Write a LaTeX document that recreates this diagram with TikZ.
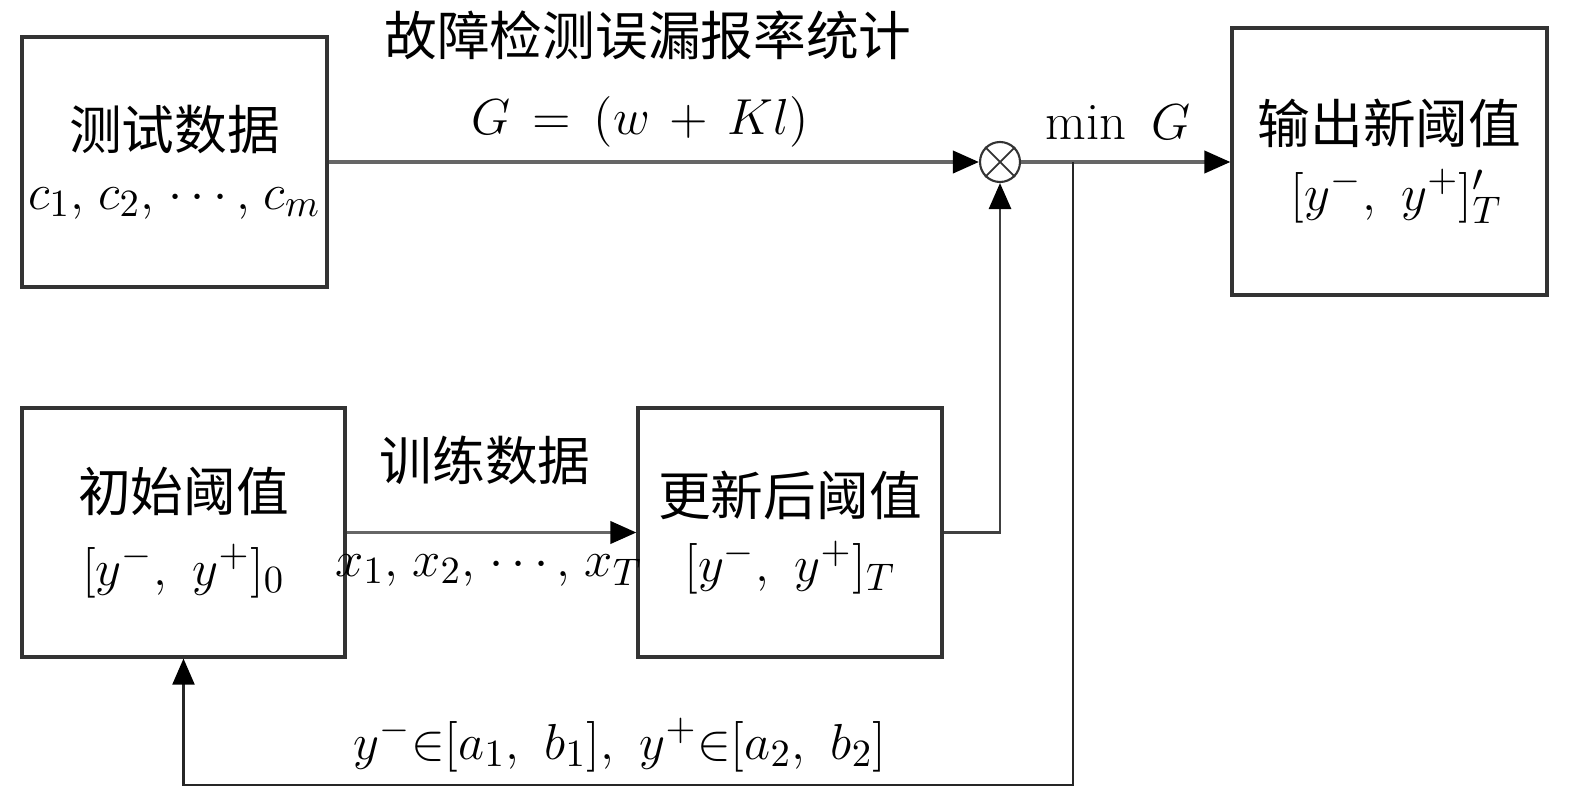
\documentclass[tikz,border=0pt]{standalone}
\usepackage{fontspec}
\newfontfamily\cjk{Noto Sans CJK SC}
\usetikzlibrary{arrows.meta}
\begin{document}
\begin{tikzpicture}[x = 0.1mm, y = -0.1mm, font = \fontsize{15}{19}\selectfont,
  blk/.style = {draw = black!80, line width = 0.9pt, align = center, inner sep = 0pt},
  conn/.style = {draw = black!60, line width = 1.1pt, -{Triangle[length = 2.6mm, width = 2.2mm, black]}},
  fbline/.style = {draw = black!85, line width = 0.6pt, -{Triangle[length = 2.6mm, width = 2.2mm, black]}}]
\useasboundingbox (0,0) rectangle (1575,793);

\node[blk, minimum width = 30.5mm, minimum height = 25mm] (testdata) at (174.5,162) {{\cjk 测试数据}\\[-2pt] $c_1,\mkern2mu c_2,\mkern2mu \cdots,\mkern2mu c_m$};
\node[blk, minimum width = 31.5mm, minimum height = 26.7mm] (outbox) at (1389.5,161.5) {{\cjk 输出新阈值}\\[0pt] $\;[y^-,\,\, y^+]'_T$};
\node[blk, minimum width = 32.3mm, minimum height = 24.9mm] (initbox) at (183.5,532.5) {{\cjk 初始阈值}\\[2pt] $[y^-,\,\, y^+]_0$};
\node[blk, minimum width = 30.4mm, minimum height = 24.9mm] (updbox) at (790,532.5) {{\cjk 更新后阈值}\\[0pt] $[y^-,\,\, y^+]_T$};
\node[draw = black!80, line width = 0.6pt, circle, minimum size = 4mm, inner sep = 0pt] (mul) at (1000,162) {};
\draw[black!80, line width = 0.5pt] (mul.45) -- (mul.225) (mul.135) -- (mul.315);

\coordinate (split) at (1073,162);
\coordinate (bot) at (1073,785);

\draw[conn] (testdata) -- (mul);
\draw[conn] (mul) -- (mul -| outbox.west);
\draw[conn] (initbox) -- (updbox);
\draw[conn, draw = black!75, line width = 0.8pt] (updbox.east) -| (mul.south);
\draw[fbline] (split) -- (bot) -| (initbox.south);

\node (faillbl) at (648,35) {\cjk 故障检测误漏报率统计};
\node (glbl) at (640,122) {$G \,=\, (w \,+\, Kl)$};
\node (minlbl) at (1118,122) {$\min\ G$};
\node (trainlbl) at (485,460) {\cjk 训练数据};
\node (xlbl) at (489,570) {$x_1,\mkern2mu x_2,\mkern2mu \cdots,\mkern2mu x_T$};
\node (rangelbl) at (620,745) {$y^-{\in}[a_1,\,\, b_1],\,\, y^+{\in}[a_2,\,\, b_2]$};
\end{tikzpicture}
\end{document}
